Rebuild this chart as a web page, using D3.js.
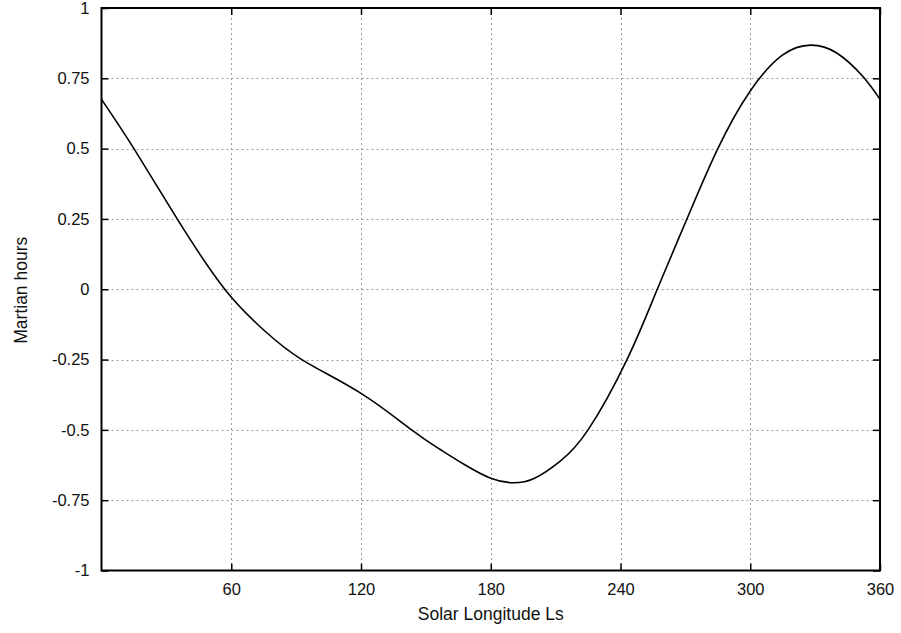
<!DOCTYPE html>
<html><head><meta charset="utf-8">
<script src="https://cdn.jsdelivr.net/npm/d3@7"></script>
<style>
html,body{margin:0;padding:0;background:#fff;}
text{font-family:"Liberation Sans",Arial,Helvetica,sans-serif;fill:#111;}
</style></head><body>
<svg id="chart" width="901" height="633"></svg>
<script>
const solarLongitude = [0, 15, 35, 57, 75, 92.6, 120, 143.4, 156.5, 168, 180, 190, 200, 212, 225, 243, 257, 271, 285, 300, 315, 328, 340, 352, 360];
const martianHours = [0.675, 0.50, 0.25, 0.0, -0.145, -0.25, -0.37, -0.5, -0.569, -0.624, -0.672, -0.688, -0.673, -0.612, -0.5, -0.25, 0.0, 0.255, 0.5, 0.705, 0.833, 0.868, 0.84, 0.757, 0.675];
const xTicks = [60, 120, 180, 240, 300, 360];
const yTicks = [-1, -0.75, -0.5, -0.25, 0, 0.25, 0.5, 0.75, 1];
const xTitle = "Solar Longitude Ls";
const yTitle = "Martian hours";

const svg = d3.select("#chart");
const L = 101.5, R = 880, T = 8, B = 570.5;
const x = d3.scaleLinear().domain([0, 360]).range([L, R]);
const y = d3.scaleLinear().domain([-1, 1]).range([B, T]);
const tickLen = 7;

// grid
const grid = svg.append("g").attr("stroke", "#9a9a9a").attr("stroke-width", 1).attr("stroke-dasharray", "2,3");
grid.selectAll("line.gx").data(xTicks.filter(d => d > 0 && d < 360)).join("line")
  .attr("x1", d => Math.round(x(d)) + 0.5).attr("x2", d => Math.round(x(d)) + 0.5)
  .attr("y1", T).attr("y2", B);
grid.selectAll("line.gy").data(yTicks.filter(d => d > -1 && d < 1)).join("line")
  .attr("y1", d => Math.round(y(d)) + 0.5).attr("y2", d => Math.round(y(d)) + 0.5)
  .attr("x1", L).attr("x2", R);

// axes with inward mirrored ticks
const fmtY = d => String(d);
const axB = d3.axisBottom(x).tickValues(xTicks).tickSize(-tickLen).tickPadding(13).tickFormat(d3.format("d"));
const axT = d3.axisTop(x).tickValues(xTicks).tickSize(-tickLen).tickFormat("");
const axL = d3.axisLeft(y).tickValues(yTicks).tickSize(-tickLen).tickPadding(12).tickFormat(fmtY);
const axR = d3.axisRight(y).tickValues(yTicks).tickSize(-tickLen).tickFormat("");

function style(g) {
  g.select(".domain").remove();
  g.selectAll(".tick line").attr("stroke", "#000").attr("stroke-width", 1.5);
  g.selectAll(".tick text").attr("font-size", "16.5px").attr("fill", "#111")
    .attr("font-family", '"Liberation Sans",Arial,sans-serif');
}
svg.append("g").attr("transform", `translate(0,${B})`).call(axB).call(style);
svg.append("g").attr("transform", `translate(0,${T})`).call(axT).call(style);
svg.append("g").attr("transform", `translate(${L},0)`).call(axL).call(style);
svg.append("g").attr("transform", `translate(${R},0)`).call(axR).call(style);

// frame
svg.append("rect").attr("x", L).attr("y", T).attr("width", R - L).attr("height", B - T)
  .attr("fill", "none").attr("stroke", "#000").attr("stroke-width", 2);

// curve
const pts = solarLongitude.map((d, i) => [d, martianHours[i]]);
const line = d3.line().x(d => x(d[0])).y(d => y(d[1])).curve(d3.curveNatural);
svg.append("path").datum(pts).attr("d", line).attr("fill", "none")
  .attr("stroke", "#000").attr("stroke-width", 1.6);

// titles
svg.append("text").attr("x", (L + R) / 2).attr("y", 620).attr("text-anchor", "middle")
  .attr("font-size", "17.5px").text(xTitle);
svg.append("text").attr("transform", `translate(27,${(T + B) / 2 + 1}) rotate(-90)`)
  .attr("text-anchor", "middle").attr("font-size", "17.5px").text(yTitle);
</script>
</body></html>
